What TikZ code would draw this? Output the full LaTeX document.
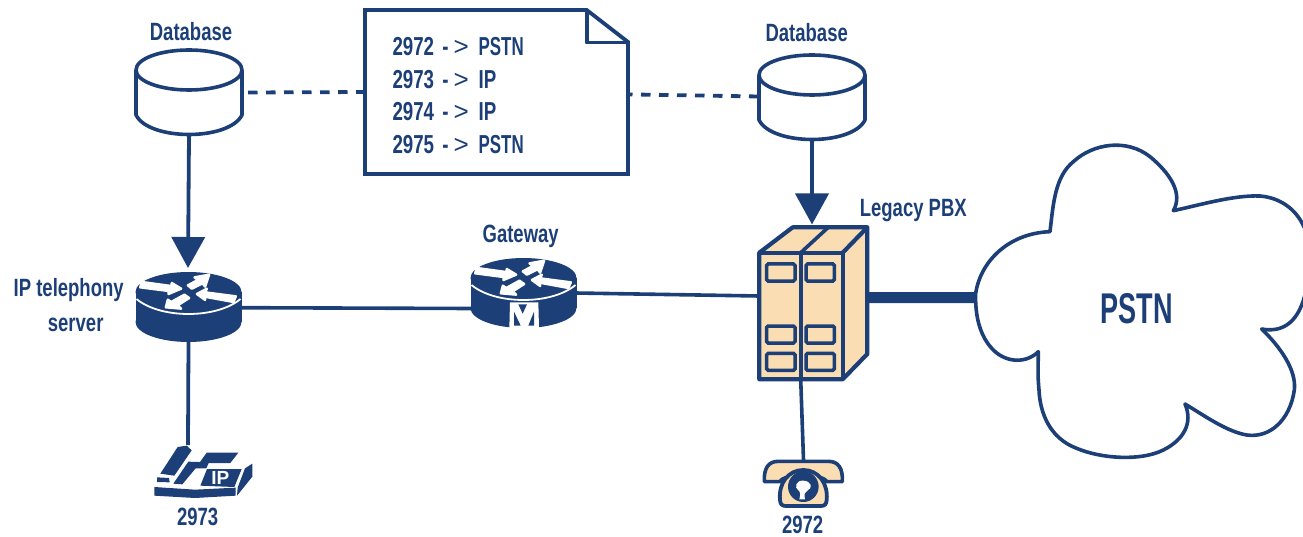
\documentclass[tikz,border=0pt]{standalone}
\usepackage{fontspec}
\usetikzlibrary{arrows.meta}
\newfontfamily\lblfont[FakeStretch=0.74]{Liberation Sans Bold}
\newfontfamily\docfont[FakeStretch=0.72]{Liberation Sans Bold}
\newfontfamily\pstnfont[FakeStretch=0.65]{Liberation Sans Bold}
\newfontfamily\bigfont[FakeStretch=0.63]{Liberation Sans Bold}
\newfontfamily\thinfont{Liberation Sans}
\newfontfamily\ipfont{Liberation Sans Bold}
\newcommand{\maparrow}{\kern3pt-\kern5pt{\thinfont >}\kern4.7pt}
\definecolor{navy}{HTML}{1C3F78}
\definecolor{tan}{HTML}{FBDDB3}
\tikzset{
  box/.style={inner sep=0pt,outer sep=0pt,minimum width=#1},
  lbl/.style={text=navy,font=\lblfont\fontsize{25}{30}\selectfont,inner sep=0pt,align=center},
  doctext/.style={text=navy,font=\docfont\fontsize{26}{32.7}\selectfont,inner sep=0pt,align=left,anchor=west},
  wire/.style={draw=navy,line width=3.6pt},
  dashwire/.style={draw=navy,line width=3.8pt,dash pattern=on 9.5pt off 8.5pt},
  arrowwire/.style={draw=navy,line width=3.8pt,-{Triangle[length=31pt,width=33pt,fill=navy]}},
  icon/.style={draw=navy,line width=3.6pt,line join=round},
  win/.style={draw=navy,line width=3.5pt,rounded corners=1.5pt},
  whitearrow/.style={fill=white,draw=white,line width=2.4pt,line join=round},
  routerpic/.pic={
    \fill[navy] (0,0) ellipse [x radius=53,y radius=20];
    \fill[navy] (0,30) ellipse [x radius=53,y radius=20];
    \fill[navy] (-53,0) rectangle (53,30);
    \draw[white,line width=1.8pt] (-52,7) .. controls (-28,27) and (28,27) .. (52,7);
    \begin{scope}[scale=1/3,shift={(-190,-82)}]
      \path[whitearrow] (50,52) -- (138,64) -- (140,55) -- (168,72) -- (130,88) -- (130,79) -- (45,68) -- cycle;
      \path[whitearrow] (252,30) -- (240,66) -- (232,56) -- (200,72) -- (188,62) -- (218,46) -- (208,38) -- cycle;
      \path[whitearrow] (215,88) -- (245,72) -- (240,83) -- (332,95) -- (325,112) -- (238,96) -- (240,106) -- cycle;
      \path[whitearrow] (122,128) -- (128,105) -- (138,112) -- (178,90) -- (192,100) -- (158,122) -- (168,132) -- cycle;
    \end{scope}
  }
}
\begin{document}
\begin{tikzpicture}[x=1pt,y=-1pt]
\useasboundingbox (0,0) rectangle (1303,537);
% invisible frames of the icons, for connectors
\node[box=106,minimum height=85] (dbL) at (189,92.5) {};
\node[box=106,minimum height=83] (dbR) at (812,96.5) {};
\node[box=263,minimum height=164] (doc) at (496.5,92) {};
\node[box=106,minimum height=70] (srv) at (188.5,307) {};
\node[box=104,minimum height=68] (gw) at (523.5,293) {};
\node[box=108,minimum height=152] (pbx) at (813,303) {};
\node[box=327,minimum height=317] (cloud) at (1139.5,301.5) {};
\node[box=98,minimum height=52] (ipphone) at (203,471) {};
\node[box=79,minimum height=46] (oldphone) at (803.5,483) {};
% connectors
\draw[dashwire] ([xshift=6pt]dbL.east) -- (doc.west);
\draw[dashwire] ([xshift=-5pt,yshift=-2.3pt]doc.east) -- (dbR.west);
\draw[arrowwire] (dbL.south) -- ([shift={(-0.5pt,4pt)}]srv.north);
\draw[arrowwire] (dbR.south) -- ([shift={(-1pt,2.5pt)}]pbx.north);
\draw[wire] ([yshift=-0.7pt]srv.east) -- ([yshift=-15.5pt]gw.west);
\draw[wire] (gw.east) -- ([yshift=7pt]pbx.west);
\draw[draw=navy,line width=11pt] ([yshift=5.5pt]pbx.east) -- ([yshift=3.8pt]cloud.west);
\draw[wire,line width=3.8pt] (srv.south) -- ([xshift=-15pt]ipphone.north);
\draw[wire] ([xshift=-12.3pt]pbx.south) -- (oldphone.north);
% databases
\foreach \cx/\cy in {189/70,812/75}{
  \draw[icon,fill=white] (\cx-53,\cy) -- (\cx-53,\cy+45) .. controls (\cx-40,\cy+71) and (\cx+40,\cy+71) .. (\cx+53,\cy+45) -- (\cx+53,\cy);
  \draw[icon,fill=white] (\cx,\cy) ellipse [x radius=53,y radius=20];
}
% document
\draw[navy,line width=3.8pt,fill=white,line join=miter] (365,10) -- (586.7,10) -- (628,42) -- (628,174) -- (365,174) -- cycle;
\draw[navy,line width=3.8pt,line join=round] (586.7,10) -- (586.7,42.5) -- (628,42.5);
% routers
\pic at (188.5,292) {routerpic};
\pic at (523.5,278) {routerpic};
\begin{scope}[shift={(500,295)},scale=1/3]
  \fill[white] (30,22) -- (115,22) -- (117,100) -- (28,100) -- cycle;
  \fill[navy] (55,28) -- (81,28) -- (68,56) -- cycle;
  \fill[navy] (42,50) -- (62,92) -- (42,92) -- cycle;
  \fill[navy] (102,50) -- (85,92) -- (102,92) -- cycle;
\end{scope}
% PBX
\begin{scope}[line join=round]
  \draw[navy,line width=4.2pt,fill=tan] (759.3,252.7) -- (792.7,227.3) -- (867.3,227.3) -- (867.3,354) -- (842.7,379.3) -- (759.3,379.3) -- cycle;
  \draw[navy,line width=4.2pt] (759.3,252.7) -- (842.7,252.7) -- (842.7,379.3);
  \draw[navy,line width=4.2pt] (842.7,252.7) -- (867.3,227.3);
  \draw[navy,line width=3.6pt] (800.7,252.7) -- (828.3,227.3);
  \draw[navy,line width=3.6pt] (800.7,252.7) -- (800.7,379.3);
\end{scope}
\foreach \wx in {766.7,806}{
  \foreach \wy in {264,326,353.3}{
    \draw[win] (\wx,\wy) rectangle ++(28.3,17);
  }
}
% cloud
\begin{scope}
\clip (960,130) rectangle (1303,470);
\begin{scope}[shift={(960,130)},scale=1/3]
\draw[navy,line width=3.6pt,fill=white,line join=round]
 (270,305) .. controls (280,220) and (285,140) .. (340,95)
 .. controls (400,40) and (500,25) .. (570,80)
 .. controls (630,130) and (670,190) .. (640,242)
 .. controls (720,225) and (820,195) .. (900,198)
 .. controls (980,205) and (1030,260) .. (1045,330)
 .. controls (1055,470) and (1029,620) .. (905,597)
 .. controls (960,650) and (1010,720) .. (1003,780)
 .. controls (990,870) and (930,925) .. (860,915)
 .. controls (800,905) and (730,855) .. (675,822)
 .. controls (700,880) and (670,930) .. (610,960)
 .. controls (540,995) and (420,985) .. (350,955)
 .. controls (270,925) and (240,850) .. (237,780)
 .. controls (232,730) and (235,700) .. (235,665)
 .. controls (200,700) and (140,700) .. (100,660)
 .. controls (60,620) and (45,560) .. (47,490)
 .. controls (60,400) and (140,310) .. (270,305) -- cycle;
\end{scope}
\end{scope}
% IP phone
\begin{scope}[shift={(145,435)},scale=1/3]
  \fill[navy] (28,156) -- (150,164) -- (272,158) -- (272,182) -- (150,189) -- (28,182) -- cycle;
  \fill[navy] (278,158) -- (300,100) -- (322,86) -- (322,125) -- (276,182) -- cycle;
  \fill[navy] (46,116) -- (98,36) -- (125,32) -- (140,46) -- (88,122) -- cycle;
  \fill[navy] (36,127) -- (72,129) -- (74,142) -- (36,141) -- cycle;
  \fill[navy] (85,146) -- (130,80) -- (192,82) -- (184,100) -- (152,100) -- (112,148) -- cycle;
  \fill[navy] (163,84) -- (185,53) -- (280,53) -- (256,84) -- cycle;
  \fill[navy] (186,102) -- (290,102) -- (268,156) -- (166,152) -- cycle;
  \node[text=white,font=\ipfont\fontsize{19}{19}\selectfont,inner sep=0pt] (iplabel) at (226,130) {IP};
\end{scope}
% old phone
\begin{scope}[shift={(755,450)},scale=1/3]
  \draw[navy,line width=3.6pt,fill=tan,line join=round] (28,95) .. controls (26,55) and (40,34) .. (70,34) -- (220,34) .. controls (250,34) and (264,55) .. (262,95) -- (215,95) .. controls (205,70) and (85,70) .. (75,95) -- cycle;
  \draw[navy,line width=3.8pt,fill=tan,line join=round] (75,150) .. controls (70,100) and (100,60) .. (145,60) .. controls (190,60) and (220,100) .. (215,150) .. controls (214,162) and (210,168) .. (197,168) -- (93,168) .. controls (80,168) and (76,162) .. (75,150) -- cycle;
  \fill[navy] (145,110) circle [radius=46];
  \fill[white] (145,92) .. controls (122,90) and (118,114) .. (129,120) .. controls (136,124) and (137,134) .. (133,148) -- (150,148) .. controls (146,132) and (150,124) .. (158,121) .. controls (174,115) and (170,93) .. (145,92) -- cycle;
\end{scope}
% labels
\node[lbl] (lblDbL) at (191,31.7) {Database};
\node[lbl] (lblDbR) at (806.7,32.7) {Database};
\node[lbl] (lblSrv) at (68.7,305.5) {IP telephony\\[5pt]\hspace*{14pt}server};
\node[lbl] (lblGw) at (520.7,236) {Gateway};
\node[lbl] (lblPbx) at (913.3,211) {Legacy PBX};
\node[lbl] (lbl2973) at (197.7,516.7) {2973};
\node[lbl] (lbl2972) at (802.7,524.5) {2972};
\node[text=navy,font=\bigfont\fontsize{43}{43}\selectfont,inner sep=0pt] (pstn) at (1136.7,308.3) {PSTN};
\node[doctext] (t1) at (392.3,46.7) {2972 \maparrow{} {\pstnfont PSTN}};
\node[doctext] (t2) at (392.3,79.3) {2973 \maparrow{} IP};
\node[doctext] (t3) at (392.3,111.7) {2974 \maparrow{} IP};
\node[doctext] (t4) at (392.3,145) {2975 \maparrow{} {\pstnfont PSTN}};
\end{tikzpicture}
\end{document}
